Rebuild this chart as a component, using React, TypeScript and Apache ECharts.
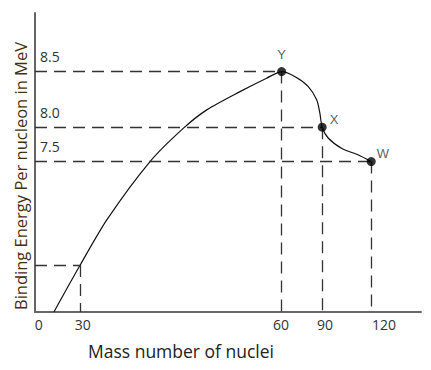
import React, { useEffect, useRef } from 'react';
import * as echarts from 'echarts';

// Schematic (not-to-scale) diagram: positions along each axis are "diagram units" 0–100,
// read off the figure.
const massLabels = ['0', '30', '60', '90', '120'];
const massLabelPos = [1.0, 12.4, 63.7, 75.1, 90.4];

const energyLabels = ['8.5', '8.0', '7.5'];
const pointNames = ['Y', 'X', 'W'];
const pointX = [63.9, 74.4, 87.1];
const pointY = [80.4, 61.8, 50.3];

const curveX = [4.9, 11.7, 18.6, 29.8, 38.4, 44.5, 53.1, 60.0, 63.9, 67.4, 70.8, 73.0, 73.8, 74.4, 76.0, 79.5, 83.8, 87.1];
const curveY = [0, 15.7, 30.8, 50.3, 61.4, 67.6, 73.7, 78.2, 80.4, 78.7, 75.4, 70.9, 66.5, 61.8, 58.1, 54.7, 52.5, 50.3];

const lightX = 11.7; // mass number 30 on the curve
const lightY = 15.7;

const xTitle = 'Mass number of nuclei';
const yTitle = 'Binding Energy Per nucleon in MeV';

export default function App() {
  const ref = useRef<HTMLDivElement>(null);
  useEffect(() => {
    if (!ref.current) return;
    const chart = echarts.init(ref.current, null, { renderer: 'svg' });
    const dash = { color: '#333', width: 1.3, type: [12, 7] as any };
    const labelFont = { fontFamily: 'Open Sans', fontSize: 14, color: '#333' };

    const guides: any[] = [];
    pointX.forEach((px, i) => {
      guides.push([
        {
          coord: [0, pointY[i]],
          label: {
            show: true,
            position: 'insideStartTop',
            distance: [5, 8],
            formatter: energyLabels[i],
            ...labelFont,
          },
        },
        { coord: [px, pointY[i]] },
      ]);
      guides.push([{ coord: [px, pointY[i]] }, { coord: [px, 0] }]);
    });
    guides.push([{ coord: [0, lightY] }, { coord: [lightX, lightY] }]);
    guides.push([{ coord: [lightX, lightY] }, { coord: [lightX, 0] }]);

    const labelPlacement: any[] = [
      { position: 'top', distance: 6 },
      { position: 'right', distance: 3, offset: [0, -8] },
      { position: 'right', distance: 1, offset: [0, -8] },
    ];

    chart.setOption({
      animation: false,
      backgroundColor: '#fff',
      grid: { left: 35, top: 13, width: 386, height: 299, containLabel: false },
      xAxis: {
        type: 'value',
        min: 0,
        max: 100,
        axisLine: { show: true, lineStyle: { color: '#666', width: 2 } },
        axisTick: { show: false },
        splitLine: { show: false },
        axisLabel: {
          customValues: massLabelPos,
          formatter: (v: number) => massLabels[massLabelPos.indexOf(v)] ?? '',
          margin: 5,
          ...labelFont,
        },
      },
      yAxis: {
        type: 'value',
        min: 0,
        max: 100,
        axisLine: { show: true, lineStyle: { color: '#666', width: 2 } },
        axisTick: { show: false },
        splitLine: { show: false },
        axisLabel: { show: false },
      },
      series: [
        {
          type: 'line',
          data: curveX.map((x, i) => [x, curveY[i]]),
          smooth: 0.25,
          symbol: 'none',
          lineStyle: { color: '#111', width: 1.2 },
          silent: true,
          z: 3,
          markLine: {
            silent: true,
            symbol: ['none', 'none'],
            label: { show: false },
            lineStyle: dash,
            emphasis: { disabled: true },
            data: guides,
          },
        },
        {
          type: 'scatter',
          symbolSize: 9,
          itemStyle: { color: '#000' },
          silent: true,
          z: 5,
          data: pointX.map((x, i) => ({
            value: [x, pointY[i]],
            label: {
              show: true,
              formatter: pointNames[i],
              fontFamily: 'Liberation Sans',
              fontSize: 13,
              color: '#333',
              ...labelPlacement[i],
            },
          })),
        },
      ],
      graphic: [
        {
          type: 'text',
          x: 181,
          y: 351,
          style: {
            text: xTitle,
            fontFamily: 'Open Sans',
            fontSize: 17.5,
            fill: '#222',
            textAlign: 'center',
            textVerticalAlign: 'middle',
          },
        },
        {
          type: 'text',
          x: 20,
          y: 176,
          rotation: Math.PI / 2,
          style: {
            text: yTitle,
            fontFamily: 'Open Sans',
            fontSize: 16.5,
            fill: '#3f3210',
            textAlign: 'center',
            textVerticalAlign: 'middle',
          },
        },
      ],
    });
    return () => chart.dispose();
  }, []);
  return (
    <div
      ref={ref}
      style={{ position: 'absolute', left: 0, top: 0, width: 431, height: 370, background: '#fff' }}
    />
  );
}
